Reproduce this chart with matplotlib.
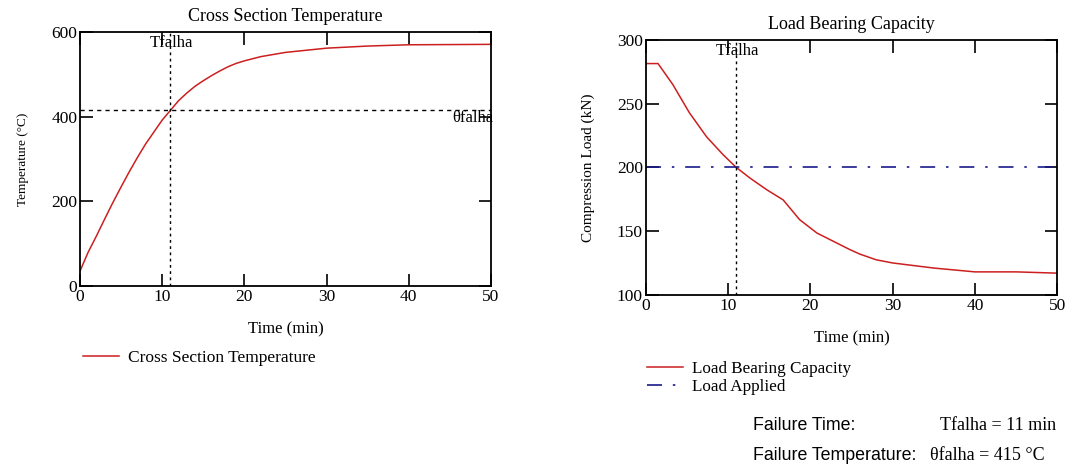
import matplotlib.pyplot as plt

# cross section temperature
t_temp = [0, 1, 2, 3, 4, 5, 6, 7, 8, 9, 10, 11, 12, 13, 14, 15, 16, 17, 18, 19, 20, 22, 25, 30, 35, 40, 50]
temp = [35, 80, 118, 158, 197, 234, 270, 304, 336, 364, 392, 415, 438, 456, 472, 485, 497, 508, 518, 526, 532, 542, 552, 562, 567, 570, 571]

# load bearing capacity
t_load = [0, 1.5, 3.3, 5.3, 7.4, 9.4, 11, 12.7, 14.7, 16.7, 18.7, 20.8, 22.8, 24.8, 26, 28, 30, 35, 40, 45, 50]
load = [281.5, 281.5, 265, 243, 224, 210, 200, 191.5, 182.5, 174.5, 159, 148.5, 142, 135.5, 132, 127.5, 125, 121, 118, 118, 117]

load_applied = 200
t_falha = 11
theta_falha = 415

SERIF = 'Liberation Serif'
SANS = 'Liberation Sans'
RED = '#cc1f1f'
BLUE = '#1a1a8c'

plt.rcParams['font.family'] = SERIF
plt.rcParams['font.size'] = 12

fig = plt.figure(figsize=(10.69, 4.65), dpi=100)


def style_axes(ax):
  ax.tick_params(direction='in', length=9, width=1.2, top=True, right=True, labelsize=12.5, pad=2)
  for s in ax.spines.values():
    s.set_linewidth(1.3)
  ax.set_xlim(0, 50)
  ax.set_xticks([0, 10, 20, 30, 40, 50])
  ax.set_xlabel('Time (min)', fontsize=12, labelpad=12)


# left chart
ax1 = fig.add_axes([0.0748, 0.385, 0.3845, 0.546])
ax1.plot(t_temp, temp, color=RED, lw=1.1, label='Cross Section Temperature')
ax1.axvline(t_falha, color='black', ls=(0, (2, 2.5)), lw=1)
ax1.axhline(theta_falha, color='black', ls=(0, (3, 3)), lw=1)
ax1.set_ylim(0, 600)
ax1.set_yticks([0, 200, 400, 600])
style_axes(ax1)
ax1.set_title('Cross Section Temperature', fontsize=13, pad=8)
ax1.set_ylabel('Temperature (°C)', fontsize=9.5, labelpad=16)
ax1.text(8.5, 592, 'Tfalha', fontsize=12, va='top')
ax1.text(50.3, theta_falha, 'θfalha', fontsize=12, va='top', ha='right')
ax1.legend(loc='center left', bbox_to_anchor=(0.071, 1 - 358 / 465), bbox_transform=fig.transFigure,
           frameon=False, handlelength=2.1, fontsize=12.5, borderaxespad=0, handletextpad=0.5)

# right chart
ax2 = fig.add_axes([0.604, 0.366, 0.385, 0.548])
ax2.plot(t_load, load, color=RED, lw=1.1, label='Load Bearing Capacity')
ax2.axhline(load_applied, color=BLUE, ls=(0, (9, 6.5, 1.5, 6.5)), lw=1.2, label='Load Applied')
ax2.axvline(t_falha, color='black', ls=(0, (2, 2.5)), lw=1)
ax2.set_ylim(100, 300)
ax2.set_yticks([100, 150, 200, 250, 300])
style_axes(ax2)
ax2.set_title('Load Bearing Capacity', fontsize=13, pad=8)
ax2.set_ylabel('Compression Load (kN)', fontsize=11, labelpad=16)
ax2.text(8.5, 298, 'Tfalha', fontsize=12, va='top')
ax2.legend(loc='upper left', bbox_to_anchor=(0.599, 1 - 354 / 465), bbox_transform=fig.transFigure,
           frameon=False, handlelength=2.1, fontsize=12.3, borderaxespad=0, handletextpad=0.5,
           labelspacing=0.1)

# failure summary
fig.text(0.704, 1 - 425 / 465, 'Failure Time:', family=SANS, fontsize=12.8, va='center')
fig.text(0.704, 1 - 455 / 465, 'Failure Temperature:', family=SANS, fontsize=12.8, va='center')
fig.text(0.879, 1 - 425 / 465, 'Tfalha = 11 min', family=SERIF, fontsize=13, va='center')
fig.text(0.870, 1 - 455 / 465, 'θfalha = 415 °C', family=SERIF, fontsize=13, va='center')

fig.savefig('out.png', dpi=100)
